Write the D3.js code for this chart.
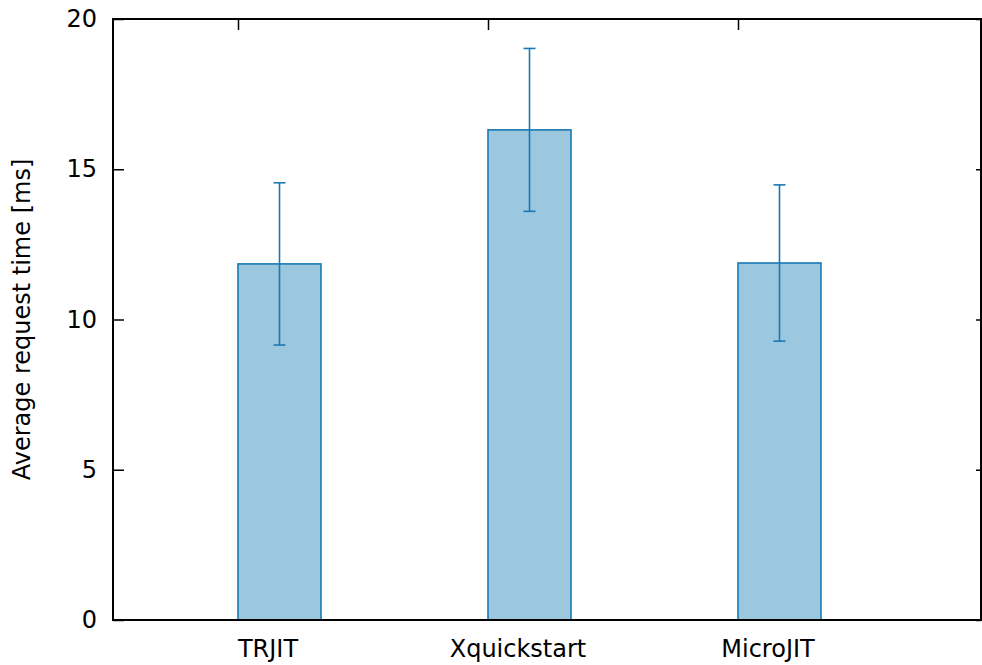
<!DOCTYPE html>
<html><head><meta charset="utf-8">
<script src="https://cdn.jsdelivr.net/npm/d3@7"></script>
<style>body{margin:0;background:#fff}svg{display:block}</style>
</head><body>
<script>
const categories = ["TRJIT", "Xquickstart", "MicroJIT"];
const means = [11.85, 16.31, 11.88];
const errors = [2.70, 2.71, 2.60];
const yTicks = [0, 5, 10, 15, 20];
const yLabel = "Average request time [ms]";

const W = 982, H = 665;
const L = 113, R = 981, T = 19, B = 620;
const svg = d3.select("body").append("svg").attr("width", W).attr("height", H);
const font = "DejaVu Sans, sans-serif";
const fs = 24;

const x = d3.scaleLinear().domain([-0.5, 2.972]).range([L, R]);
const y = d3.scaleLinear().domain([0, 20]).range([B, T]);
const barW = 0.332;
const fill = "#9bc7df", stroke = "#1a78b4";

// bars
svg.selectAll("rect.bar").data(means).enter().append("rect")
  .attr("x", (d, i) => x(i)).attr("width", x(barW) - x(0))
  .attr("y", d => y(d)).attr("height", d => y(0) - y(d))
  .attr("fill", fill).attr("stroke", stroke).attr("stroke-width", 1.6);

// error bars
const cx = i => x(i + barW / 2);
const g = svg.append("g").attr("stroke", stroke).attr("stroke-width", 1.6);
means.forEach((m, i) => {
  g.append("line").attr("x1", cx(i)).attr("x2", cx(i)).attr("y1", y(m + errors[i])).attr("y2", y(m - errors[i]));
  [m + errors[i], m - errors[i]].forEach(v => {
    g.append("line").attr("x1", cx(i) - 6).attr("x2", cx(i) + 6).attr("y1", y(v)).attr("y2", y(v));
  });
});

// y axis left (inward ticks)
const yAxisL = d3.axisLeft(y).tickValues(yTicks).tickSize(-11).tickPadding(16);
const gl = svg.append("g").attr("transform", `translate(${L},0)`).call(yAxisL);
gl.select(".domain").remove();
gl.selectAll(".tick line").attr("stroke", "#000").attr("stroke-width", 1.5);
gl.selectAll(".tick text").attr("font-family", font).attr("font-size", fs).attr("fill", "#000");

// y mirror right
const gr = svg.append("g").attr("transform", `translate(${R},0)`).call(d3.axisRight(y).tickValues(yTicks).tickSize(-5).tickFormat(""));
gr.select(".domain").remove();
gr.selectAll(".tick line").attr("stroke", "#000").attr("stroke-width", 1.5);

// x axis top mirror ticks
const gt = svg.append("g").attr("transform", `translate(0,${T})`)
  .call(d3.axisTop(x).tickValues(categories.map((c, i) => i)).tickSize(-11).tickFormat(""));
gt.select(".domain").remove();
gt.selectAll(".tick line").attr("stroke", "#000").attr("stroke-width", 1.5);

// x labels
svg.selectAll("text.xl").data(categories).enter().append("text")
  .attr("x", (d, i) => x(i + 0.12)).attr("y", 657)
  .attr("text-anchor", "middle").attr("font-family", font).attr("font-size", fs)
  .attr("fill", "#000").text(d => d);

// border
svg.append("rect").attr("x", L).attr("y", T).attr("width", R - L).attr("height", B - T)
  .attr("fill", "none").attr("stroke", "#000").attr("stroke-width", 2);

// y label
svg.append("text").attr("transform", `translate(30,${(T + B) / 2}) rotate(-90)`)
  .attr("text-anchor", "middle").attr("font-family", font).attr("font-size", fs)
  .attr("fill", "#000").text(yLabel);
</script>
</body></html>
